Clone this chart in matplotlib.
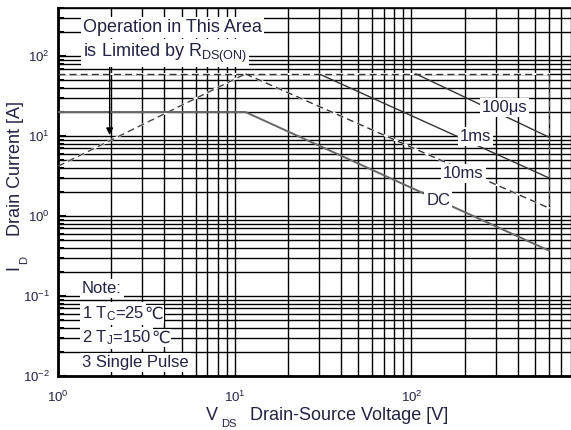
import matplotlib
matplotlib.use("Agg")
import matplotlib.pyplot as plt
from matplotlib.ticker import LogLocator, NullFormatter

plt.rcParams['font.family'] = ['Liberation Sans', 'DejaVu Sans']
plt.rcParams['mathtext.fontset'] = 'custom'
plt.rcParams['mathtext.rm'] = 'Liberation Sans'
plt.rcParams['mathtext.it'] = 'Liberation Sans:italic'
plt.rcParams['mathtext.bf'] = 'Liberation Sans:bold'

# safe operating area curves (V, A)
v_rds = [1, 11.5]
i_rds = [4.2, 60]
v_idm = [1, 600]
i_idm = [60, 60]
v_100us = [106, 600]
i_100us = [60, 9.7]
v_1ms = [30, 600]
i_1ms = [60, 3.0]
v_10ms = [11.5, 600]
i_10ms = [60, 1.26]
v_dc = [1, 11.5, 600]
i_dc = [20, 20, 0.37]
v_bv = [600, 600]
i_bv = [60, 1.26]

fig = plt.figure(figsize=(5.71, 4.30), dpi=100)
ax = fig.add_axes([58 / 571, 54 / 430, 513 / 571, 368 / 430])
ax.set_xscale('log')
ax.set_yscale('log')
ax.set_xlim(1, 800)
ax.set_ylim(0.01, 400)

ax.xaxis.set_minor_locator(LogLocator(base=10, subs=range(2, 10), numticks=20))
ax.yaxis.set_minor_locator(LogLocator(base=10, subs=range(2, 10), numticks=20))
ax.xaxis.set_minor_formatter(NullFormatter())
ax.yaxis.set_minor_formatter(NullFormatter())
ax.grid(True, which='both', color='black', linewidth=1.0, zorder=1)
ax.set_axisbelow(True)

ax.tick_params(which='both', direction='in', labelsize=9.5, colors='black')
ax.tick_params(axis='x', which='both', length=0, pad=10)
ax.tick_params(axis='y', which='major', length=6, width=1.5, pad=6)
ax.tick_params(axis='y', which='minor', length=4, width=1.5)
for lab in ax.get_xticklabels() + ax.get_yticklabels():
    lab.set_color('#222244')

ax.spines['right'].set_visible(False)
ax.spines['top'].set_linewidth(1.2)
ax.spines['left'].set_linewidth(2)
ax.spines['bottom'].set_linewidth(2)

dash = (0, (5, 3))
ax.plot(v_idm, i_idm, color='white', lw=1.5, zorder=2)
ax.plot(v_idm, i_idm, color='#333333', lw=1.0, linestyle=dash, zorder=3)
ax.plot(v_rds, i_rds, color='white', lw=1.5, zorder=2)
ax.plot(v_rds, i_rds, color='#444444', lw=1.0, linestyle=dash, zorder=3)
ax.plot(v_10ms, i_10ms, color='white', lw=1.5, zorder=2)
ax.plot(v_10ms, i_10ms, color='#333333', lw=1.0, linestyle=dash, zorder=3)
ax.plot(v_bv, i_bv, color='#555555', lw=0.8, linestyle=dash, zorder=3)
ax.plot(v_100us, i_100us, color='#333333', lw=1.0, zorder=3)
ax.plot(v_1ms, i_1ms, color='#333333', lw=1.0, zorder=3)
ax.plot(v_dc, i_dc, color='#666666', lw=1.4, zorder=3)

box = dict(facecolor='white', edgecolor='none', pad=1.5)
tc = '#222244'
ax.text(1.386, 230, 'Operation in This Area', fontsize=13, color=tc,
        ha='left', va='center', bbox=box, zorder=5)
ax.text(1.386, 109, r'is Limited by R$_{\mathregular{DS(ON)}}$', fontsize=13,
        color=tc, ha='left', va='center', bbox=box, zorder=5)
ax.annotate('', xy=(1.96, 10.3), xytext=(1.96, 72),
            arrowprops=dict(arrowstyle='-|>', color='black', lw=1.0,
                            mutation_scale=10, shrinkA=0, shrinkB=0), zorder=5)

ax.text(336, 23, '100μs', fontsize=12, color=tc, ha='center', va='center', bbox=box, zorder=5)
ax.text(230, 10, '1ms', fontsize=12, color=tc, ha='center', va='center', bbox=box, zorder=5)
ax.text(197, 3.45, '10ms', fontsize=12, color=tc, ha='center', va='center', bbox=box, zorder=5)
ax.text(142, 1.58, 'DC', fontsize=12, color=tc, ha='center', va='center', bbox=box, zorder=5)

# note block, baselines
ax.text(1.367, 0.108, 'Note:', fontsize=12, color=tc, ha='left', va='baseline',
        bbox=box, zorder=5)
for label, yb in [(r'1 T$_{\mathregular{C}}$=25', 0.0526),
                  (r'2 T$_{\mathregular{J}}$=150', 0.0261)]:
    t = ax.text(1.367, yb, label, fontsize=12, color=tc, ha='left', va='baseline',
                bbox=box, zorder=5)
    ax.annotate('℃', xy=(1, yb), xycoords=(t, 'data'), fontsize=12, color=tc,
                ha='left', va='baseline', zorder=6,
                bbox=dict(facecolor='white', edgecolor='none', pad=1.0))
ax.text(1.367, 0.01285, '3 Single Pulse', fontsize=12, color=tc,
        ha='left', va='baseline', bbox=box, zorder=5)

# axis titles, placed by hand like the datasheet
fig.text(212 / 571, 1 - 416 / 430, 'V', fontsize=13, color=tc, ha='center', va='center')
fig.text(229 / 571, 1 - 424 / 430, 'DS', fontsize=8, color=tc, ha='center', va='center')
fig.text(250 / 571, 1 - 416 / 430, 'Drain-Source Voltage [V]', fontsize=13, color=tc,
         ha='left', va='center')
fig.text(14 / 571, 1 - 268 / 430, 'I', fontsize=13, color=tc, ha='center', va='center',
         rotation=90)
fig.text(24 / 571, 1 - 260 / 430, 'D', fontsize=8, color=tc, ha='center', va='center',
         rotation=90)
fig.text(16 / 571, 1 - 168 / 430, 'Drain Current [A]', fontsize=13, color=tc,
         ha='center', va='center', rotation=90)

fig.savefig('out.png', dpi=100)
